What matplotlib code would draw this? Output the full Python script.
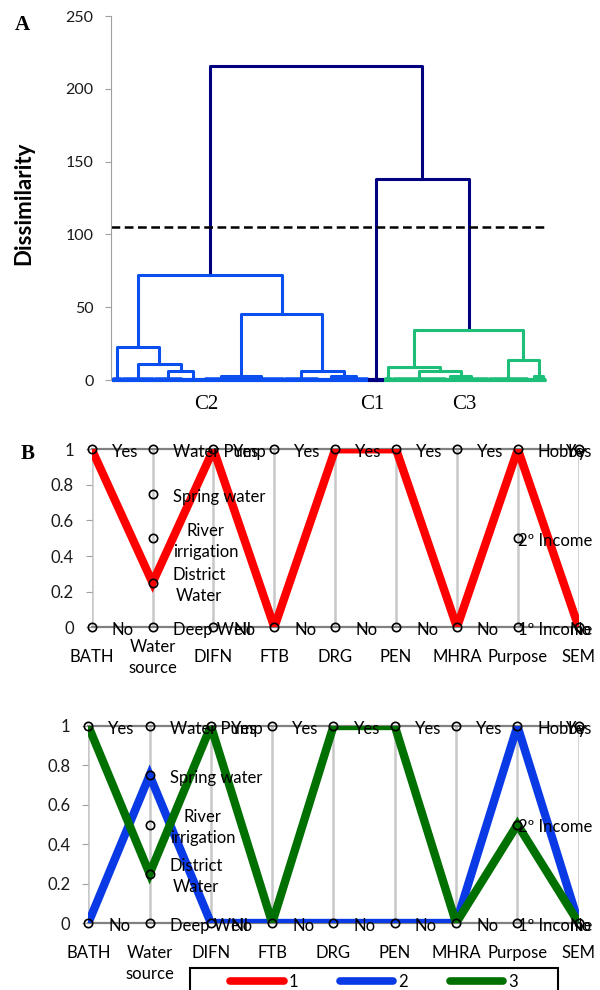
import numpy as np
import matplotlib
matplotlib.use('Agg')
import matplotlib.pyplot as plt
import matplotlib.transforms as mtransforms
from matplotlib.patches import Rectangle
from matplotlib.lines import Line2D

plt.rcParams['font.family'] = ['Lato', 'DejaVu Sans']

# ---- panel A: dendrogram ----
# terminal groups in leaf order (number of observations, height of their own small merge)
group_sizes = [5, 16, 14, 11, 17, 23, 17, 13, 12, 8, 4, 27, 4, 17, 20, 6, 3]
group_heights = [1.5, 1.2, 1.5, 1.0, 1.5, 1.2, 1.5, 1.0, 1.5, 0.3, 1.5, 1.5, 1.0, 1.5, 1.5, 1.0, 1.0]
# merges written as (height, left, right); ints point to the groups above
c2_tree = (72, (23, 0, (11, 1, (6, 2, 3))), (45, (3, 4, 5), (6, 6, (2.7, 7, 8))))
c3_tree = (34, (9, 10, (6, 11, (2.7, 12, 13))), (13.7, 14, (2.5, 15, 16)))
tree = (216, c2_tree, (138, 9, c3_tree))
cut_height = 105
cluster_names = ['C2', 'C1', 'C3']
cluster_colors = ['#0b4ff0', '#000080', '#1dbf78']
top_color = '#000080'

# ---- panel B: parallel coordinates ----
variables = ['BATH', 'Water\nsource', 'DIFN', 'FTB', 'DRG', 'PEN', 'MHRA', 'Purpose', 'SEM']
levels = [[0, 1], [0, 0.25, 0.5, 0.75, 1], [0, 1], [0, 1], [0, 1], [0, 1], [0, 1],
          [0, 0.5, 1], [0, 1]]
level_labels = [['No', 'Yes'],
                ['Deep Well', 'District\nWater', 'River\nirrigation', 'Spring water', 'Water Pump'],
                ['No', 'Yes'], ['No', 'Yes'], ['No', 'Yes'], ['No', 'Yes'], ['No', 'Yes'],
                ['1º Income', '2º Income', 'Hobby'], ['No', 'Yes']]
cluster1 = [1, 0.25, 1, 0, 1, 1, 0, 1, 0]
cluster2 = [0, 0.75, 0, 0, 0, 0, 0, 1, 0]
cluster3 = [1, 0.25, 1, 0, 1, 1, 0, 0.5, 0]
line_colors = {'1': '#ff0000', '2': '#0a3ae6', '3': '#007000'}

fig = plt.figure(figsize=(6, 9.9), dpi=100)

# ---------------- A ----------------
axA = fig.add_axes([111/600, 1-380/990, 436/600, 364/990])
starts = np.concatenate([[0], np.cumsum(group_sizes)[:-1]])


def layout(node):
    if isinstance(node, int):
        return starts[node] + group_sizes[node]/2, group_heights[node]
    h, l, r = node
    xl, _ = layout(l)
    xr, _ = layout(r)
    return (xl + xr)/2, h


found = []


def draw(node, color=None):
    x, h = layout(node)
    if color is None and h < cut_height:
        color = cluster_colors[len(found)]
        found.append(x)
    c = color or top_color
    if isinstance(node, int):
        s = starts[node]
        e = s + group_sizes[node]
        axA.plot([s+0.5, s+0.5, e-0.5, e-0.5], [0, h, h, 0], color=c, lw=1.8, clip_on=False)
        axA.plot([s, e], [0, 0], color=c, lw=3, clip_on=False, solid_capstyle='butt')
        return
    _, l, r = node
    xl, hl = layout(l)
    xr, hr = layout(r)
    axA.plot([xl, xl, xr, xr], [hl, h, h, hr], color=c, lw=2.2, clip_on=False)
    draw(l, color)
    draw(r, color)


draw(tree)
axA.axhline(cut_height, xmin=0, xmax=0.995, color='black', lw=1.8, ls=(0, (3.5, 1.8)))
axA.set_xlim(-0.5, sum(group_sizes) + 0.5)
axA.set_ylim(0, 250)
axA.set_yticks(range(0, 251, 50))
axA.set_xticks([])
for s in ['top', 'right', 'bottom']:
    axA.spines[s].set_visible(False)
axA.spines['left'].set_color('#a0a0a0')
axA.tick_params(axis='y', colors='#a0a0a0', labelcolor='#1a1a1a', length=4, pad=8.5, labelsize=11.5)
for name, x in zip(cluster_names, found):
    axA.text(x - 2, -0.066, name, transform=axA.get_xaxis_transform(), ha='center', va='center',
             fontsize=15, family='Liberation Serif')
fig.text(24/600, 1-203/990, 'Dissimilarity', rotation=90, ha='center', va='center',
         fontsize=16, fontweight='bold')
fig.text(22/600, 1-25/990, 'A', ha='center', va='center', fontsize=15, fontweight='bold',
         family='Liberation Serif')
fig.text(28/600, 1-454/990, 'B', ha='center', va='center', fontsize=15, fontweight='bold',
         family='Liberation Serif')

# ---------------- B ----------------
axB1 = fig.add_axes([91.7/600, 1-627.3/990, 487/600, 178/990])
axB2 = fig.add_axes([88.3/600, 1-923/990, 490.4/600, 197/990])
level_texts = []


def parallel(ax, series, xlabel_va, xlabel_pad):
    xs = range(len(variables))
    for i in xs:
        ax.axvline(i, color='#c8c8c8', lw=1.8, zorder=1)
    ax.axhline(0, color='#808080', lw=1.6, zorder=1.5, clip_on=False)
    ax.axhline(1, color='#808080', lw=1.6, zorder=1.5, clip_on=False)
    for name, vals in series:
        ax.plot(xs, vals, color=line_colors[name], lw=6, zorder=3, solid_joinstyle='miter')
    off = mtransforms.offset_copy(ax.transData, fig=fig, x=20, y=-3, units='dots')
    for i, (lv, lb) in enumerate(zip(levels, level_labels)):
        ax.plot([i]*len(lv), lv, 'o', mfc='none', mec='black', mew=1.2, ms=6,
                zorder=4, clip_on=False)
        for v, t in zip(lv, lb):
            level_texts.append(ax.text(i, v, t, transform=off, ha='left', va='center',
                                       multialignment='center', fontsize=12, linespacing=1.4,
                                       zorder=5))
    ax.set_xlim(0, len(variables) - 1)
    ax.set_ylim(0, 1)
    ax.set_yticks([0, 0.2, 0.4, 0.6, 0.8, 1])
    ax.set_yticklabels(['0', '0.2', '0.4', '0.6', '0.8', '1'])
    ax.set_xticks(list(xs))
    ax.set_xticklabels(variables, va=xlabel_va, linespacing=1.4)
    ax.tick_params(axis='x', length=0, pad=xlabel_pad, labelsize=12)
    ax.tick_params(axis='y', colors='#a0a0a0', labelcolor='#1a1a1a', length=4.3, pad=8.5,
                   labelsize=12)
    for s in ax.spines.values():
        s.set_visible(False)


parallel(axB1, [('1', cluster1)], 'center', 21.6)
parallel(axB2, [('2', cluster2), ('3', cluster3)], 'top', 15.5)

# labels running past the right border get pushed back inside, as in the source chart
fig.canvas.draw()
renderer = fig.canvas.get_renderer()
right_px = 592
for t in level_texts:
    bb = t.get_window_extent(renderer)
    if bb.x1 > right_px:
        t.set_transform(t.get_transform() + mtransforms.Affine2D().translate(right_px - bb.x1, 0))

handles = [Line2D([], [], color=line_colors[k], lw=5.5, solid_capstyle='round') for k in ['1', '2', '3']]
fig.legend(handles, ['1', '2', '3'], loc='center', bbox_to_anchor=(374/600, 1-982/990), ncol=3,
           frameon=False, fontsize=12, handlelength=3.2, handletextpad=0.3, columnspacing=2.5)
fig.add_artist(Rectangle((190/600, -0.02), 368/600, 0.02 + 22/990, transform=fig.transFigure,
                         fill=False, ec='black', lw=1.5))

fig.savefig('out.png', dpi=100)
